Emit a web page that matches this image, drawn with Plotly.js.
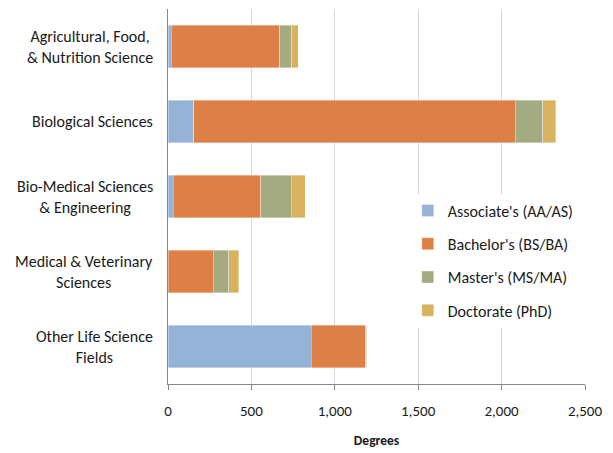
<!DOCTYPE html>
<html>
<head>
<meta charset="utf-8">
<script src="https://cdn.plot.ly/plotly-3.0.1.min.js"></script>
<style>html,body{margin:0;padding:0;background:#fff;}#chart{width:613px;height:453px;}</style>
</head>
<body>
<div id="chart"></div>
<script>
const categories = [
  "Agricultural, Food,<br>& Nutrition Science",
  "Biological Sciences",
  "Bio-Medical Sciences<br>& Engineering",
  "Medical & Veterinary<br>Sciences",
  "Other Life Science<br>Fields"
];
const seriesNames = ["Associate's (AA/AS)", "Bachelor's (BS/BA)", "Master's (MS/MA)", "Doctorate (PhD)"];
const associate = [20, 154, 32, 0, 858];
const bachelor = [650, 1928, 524, 272, 328];
const master = [72, 166, 182, 92, 6];
const doctorate = [38, 76, 86, 60, 0];
const colors = ["#95b3d7", "#dd8047", "#a5ab81", "#d8b25c"];
const tickVals = [0, 500, 1000, 1500, 2000, 2500];
const tickText = ["0", "500", "1,000", "1,500", "2,000", "2,500"];

const FONT = "Carlito, Calibri, Lato, 'Liberation Sans', sans-serif";
const values = [associate, bachelor, master, doctorate];
const traces = values.map((v, i) => ({
  type: "bar",
  orientation: "h",
  name: seriesNames[i],
  x: v,
  y: categories,
  legendgroup: "g" + i,
  marker: {color: colors[i], line: {color: "rgba(255,255,255,0.6)", width: 0.6}},
  hoverinfo: "x+name"
}));

const annotations = categories.map(c => ({
  text: c,
  xref: "paper", yref: "y",
  x: -0.03, y: c,
  xanchor: "right", yanchor: "middle",
  align: "center",
  showarrow: false,
  font: {family: FONT, size: 16, color: "#1a1a1a"}
}));

const layout = {
  width: 613, height: 453,
  margin: {l: 168, r: 28, t: 9, b: 69},
  paper_bgcolor: "#ffffff",
  plot_bgcolor: "#ffffff",
  barmode: "stack",
  bargap: 0.427,
  font: {family: FONT, size: 16, color: "#1a1a1a"},
  xaxis: {
    range: [0, 2500],
    tickvals: tickVals,
    ticktext: tickText,
    showgrid: true, gridcolor: "#d9d9d9", gridwidth: 1,
    zeroline: false,
    showline: true, linecolor: "#868686", linewidth: 1,
    ticks: "outside", ticklen: 5, tickcolor: "#868686",
    ticklabelstandoff: 8,
    tickfont: {family: FONT, size: 15, color: "#1a1a1a"},
    title: {text: "<b>Degrees</b>", font: {family: FONT, size: 13.5, color: "#1a1a1a"}, standoff: 16},
    fixedrange: true
  },
  yaxis: {
    type: "category",
    autorange: "reversed",
    showticklabels: false,
    showgrid: false,
    zeroline: false,
    showline: true, linecolor: "#868686", linewidth: 1,
    ticks: "",
    fixedrange: true
  },
  legend: {
    x: 0.575, y: 0.508, xanchor: "left", yanchor: "top",
    bgcolor: "#ffffff",
    borderwidth: 0,
    traceorder: "grouped",
    tracegroupgap: 9.5,
    font: {family: FONT, size: 16, color: "#1a1a1a"}
  },
  annotations: annotations,
  showlegend: true
};

Plotly.newPlot("chart", traces, layout, {displayModeBar: false, staticPlot: true});
</script>
</body>
</html>
